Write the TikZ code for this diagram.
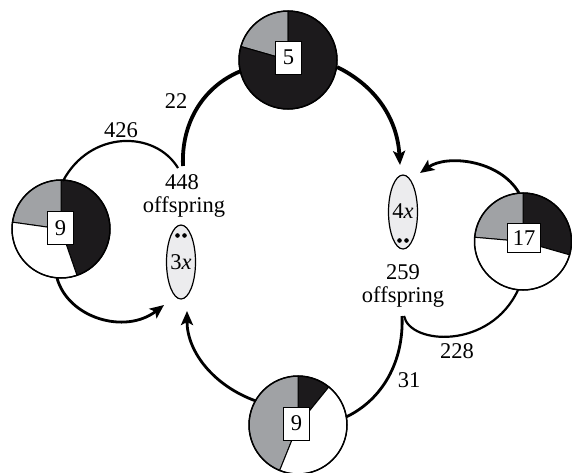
\documentclass[tikz,border=0pt]{standalone}
\usepackage{fontspec}
\setmainfont{Liberation Serif}
\usetikzlibrary{arrows.meta,shapes.geometric}
\definecolor{pgray}{RGB}{160,162,165}
\definecolor{pblack}{RGB}{28,26,28}
\definecolor{egray}{RGB}{236,236,238}
\newcommand\wedgefill[5]{%
  \filldraw[fill=#5, draw=black, line width=1pt] (#1) -- ++({-(#3)}:#2)
    arc[start angle={-(#3)}, end angle={-(#4)}, radius=#2] -- cycle;}
\begin{document}
\begin{tikzpicture}[x=1pt,y=-1pt,
  lbl/.style={font=\fontsize{22.5}{24}\selectfont, inner sep=0pt, align=center},
  numbox/.style={draw, fill=white, line width=1pt, font=\fontsize{22.5}{24}\selectfont,
    minimum width=26pt, minimum height=33pt, inner xsep=5pt, inner ysep=3pt},
  egg/.style={ellipse, draw, fill=egray, line width=1.2pt, minimum width=29pt,
    minimum height=74pt, inner sep=0pt},
  heavy/.style={line width=3.8pt},
  medium/.style={line width=2.8pt},
  light/.style={line width=2.2pt},
  tip/.style={-{Stealth[length=14pt,width=12pt,inset=3pt]}},
  rim/.style={draw=black, line width=1.5pt},
  dot/.style={fill=black}
]
\useasboundingbox (0,0) rectangle (572,472);
\clip (0,0) rectangle (572,472);

% pie centres
\coordinate (cT) at (288,60);
\coordinate (cL) at (61,229);
\coordinate (cR) at (523,241.5);
\coordinate (cB) at (298,425);

% top pie
\wedgefill{cT}{49}{90}{164}{pgray}
\wedgefill{cT}{49}{164}{450}{pblack}
\draw[rim] (cT) circle[radius=49];
% left pie
\wedgefill{cL}{49}{-71}{90}{pblack}
\wedgefill{cL}{49}{90}{172}{pgray}
\wedgefill{cL}{49}{172}{289}{white}
\draw[rim] (cL) circle[radius=49];
% right pie
\wedgefill{cR}{48.5}{-16}{90}{pblack}
\wedgefill{cR}{48.5}{90}{175}{pgray}
\wedgefill{cR}{48.5}{175}{344}{white}
\draw[rim] (cR) circle[radius=48.5];
% bottom pie
\wedgefill{cB}{49}{51}{90}{pblack}
\wedgefill{cB}{49}{90}{248}{pgray}
\wedgefill{cB}{49}{248}{411}{white}
\draw[rim] (cB) circle[radius=49];

% boxes
\node[numbox] (bT) at (288.5,57.5) {5};
\node[numbox] (bL) at (60.5,228) {9};
\node[numbox, minimum height=29pt] (bR) at (524,238) {17};
\node[numbox] (bB) at (296.5,423.5) {9};

% ellipses
\node[egg] (eL) at (181,262) {};
\node[lbl] (tL) at (181,262) {3\itshape x};
\fill[dot] (177.5,235.5) circle[radius=2.3] (184.5,235.5) circle[radius=2.3];
\node[egg] (eR) at (403,212) {};
\node[lbl] (tR) at (403,211) {4\itshape x};
\fill[dot] (399.5,240.5) circle[radius=2.3] (406.5,240.5) circle[radius=2.3];

% labels
\node[lbl] (n448) at (182,182) {448};
\node[lbl] (o448) at (184,207) {offspring};
\node[lbl] (n259) at (403,272) {259};
\node[lbl] (o259) at (403,297) {offspring};
\node[lbl] (l426) at (121,130) {426};
\node[lbl] (l22) at (176,101) {22};
\node[lbl] (l31) at (409,380) {31};
\node[lbl] (l228) at (457,351) {228};

% connector end points
\coordinate (aTs) at (337,67);
\coordinate (aTe) at (400,165);
\coordinate (a22s) at (183,166);
\coordinate (a22e) at (241,71);
\coordinate (a426s) at (178,168);
\coordinate (a426e) at (63,181);
\coordinate (aLs) at (57,278);
\coordinate (aLe) at (164,305);
\coordinate (aBs) at (256,401);
\coordinate (aBe) at (187,311);
\coordinate (a31s) at (402,316);
\coordinate (a31e) at (346,417);
\coordinate (a228s) at (404,316);
\coordinate (a228e) at (518,290);
\coordinate (aRs) at (519,193);
\coordinate (aRe) at (420,173);

% connectors
\draw[heavy, tip] (aTs) .. controls (372,84) and (397,115) .. (aTe);
\draw[heavy] (a22s) .. controls (181,122) and (204,86) .. (a22e);
\draw[light] (a426s) .. controls (155,130) and (90,130) .. (a426e);
\draw[medium, tip] (aLs) .. controls (68,318) and (125,335) .. (aLe);
\draw[medium, tip] (aBs) .. controls (214,386) and (187,352) .. (aBe);
\draw[medium] (a31s) .. controls (404,362) and (382,400) .. (a31e);
\draw[light] (a228s) .. controls (410,345) and (490,350) .. (a228e);
\draw[medium, tip] (aRs) .. controls (500,160) and (447,154) .. (aRe);
\end{tikzpicture}
\end{document}
